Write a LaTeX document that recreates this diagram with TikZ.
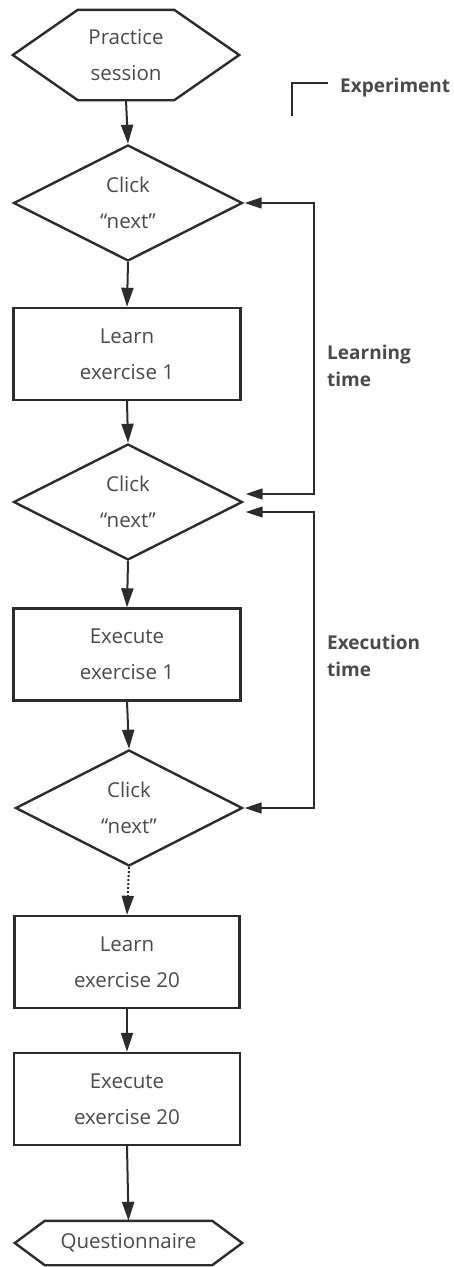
\documentclass[tikz,border=0pt]{standalone}
\usepackage{fontspec}
\setmainfont{Open Sans}
\usetikzlibrary{arrows.meta,shapes.geometric}
\definecolor{ink}{HTML}{2C2C2C}
\definecolor{txt}{HTML}{4A4A4A}
\begin{document}
\begin{tikzpicture}[x=1pt,y=1pt,
  bodyfont/.style={font=\fontsize{20.5}{36}\selectfont, text=txt, align=center},
  box/.style={bodyfont, draw=ink, line width=2.4pt, minimum width=227pt, minimum height=92pt, inner sep=0pt},
  choice/.style={bodyfont, diamond, draw=ink, line width=2.4pt, minimum width=229pt, minimum height=116pt, inner sep=0pt},
  term/.style={bodyfont, inner sep=0pt},
  hexline/.style={draw=ink, line width=2.4pt, line join=miter},
  flow/.style={draw=ink, line width=2pt, -{Triangle[length=19pt,width=12pt]}},
  loopline/.style={draw=ink, line width=1.6pt, {Triangle[length=17pt,width=11pt]}-{Triangle[length=17pt,width=11pt]}},
  lab/.style={font=\bfseries\fontsize{19}{27}\selectfont, text=txt, align=left, anchor=west, inner sep=0pt}
]
\useasboundingbox (0,0) rectangle (454,-1267);

% start terminal (hexagon)
\node[term, minimum width=226pt, minimum height=90pt] (start) at (126,-55) {Practice\\session};
\draw[hexline] (start.west) -- ([xshift=65pt]start.north west) -- ([xshift=-65pt]start.north east)
  -- (start.east) -- ([xshift=-65pt]start.south east) -- ([xshift=65pt]start.south west) -- cycle;

% main column
\node[choice] (d1) at (128,-203) {Click\\“next”};
\node[box] (learn1) at (127,-354) {Learn\\exercise 1};
\node[choice] (d2) at (128,-502) {Click\\“next”};
\node[box] (exec1) at (127,-654.5) {Execute\\exercise 1};
\node[choice, minimum width=227pt] (d3) at (129,-808) {Click\\“next”};
\node[box, minimum width=225pt] (learn20) at (127,-962) {Learn\\exercise 20};
\node[box, minimum width=226pt] (exec20) at (127,-1099) {Execute\\exercise 20};

% end terminal (flat hexagon)
\node[term, minimum width=227pt, minimum height=44pt] (quest) at (128.5,-1243) {Questionnaire};
\draw[hexline] (quest.west) -- ([xshift=30pt]quest.north west) -- ([xshift=-30pt]quest.north east)
  -- (quest.east) -- ([xshift=-30pt]quest.south east) -- ([xshift=30pt]quest.south west) -- cycle;

% vertical flow
\draw[flow] (start.south) -- (d1.north);
\draw[flow] (d1.south) -- (learn1.north);
\draw[flow] (learn1.south) -- (d2.north);
\draw[flow] (d2.south) -- (exec1.north);
\draw[flow] (exec1.south) -- (d3.north);
\draw[flow, dotted] (d3.south) -- (learn20.north);
\draw[flow] (learn20.south) -- (exec20.north);
\draw[flow] (exec20.south) -- (quest.north);

% timing brackets
\coordinate (l1top) at (314,-203);
\coordinate (l1bot) at (314,-494);
\coordinate (d2inA) at ([xshift=2pt,yshift=8pt]d2.east);
\coordinate (l2top) at (314,-512);
\coordinate (l2bot) at (314,-808);
\coordinate (d2inB) at ([xshift=2pt,yshift=-10pt]d2.east);
\draw[loopline] ([xshift=1pt]d1.east) -- (l1top) -- (l1bot) -- (d2inA);
\draw[loopline] (d2inB) -- (l2top) -- (l2bot) -- ([xshift=1pt]d3.east);

\node[lab] (learnlab) at (327,-366) {Learning\\time};
\node[lab] (execlab) at (327,-656) {Execution\\time};

% legend
\coordinate (lgA) at (292,-116);
\coordinate (lgB) at (328,-83);
\draw[ink, line width=1.2pt] (lgA) |- (lgB);
\node[lab] (explab) at (340,-88) {Experiment};
\end{tikzpicture}
\end{document}
